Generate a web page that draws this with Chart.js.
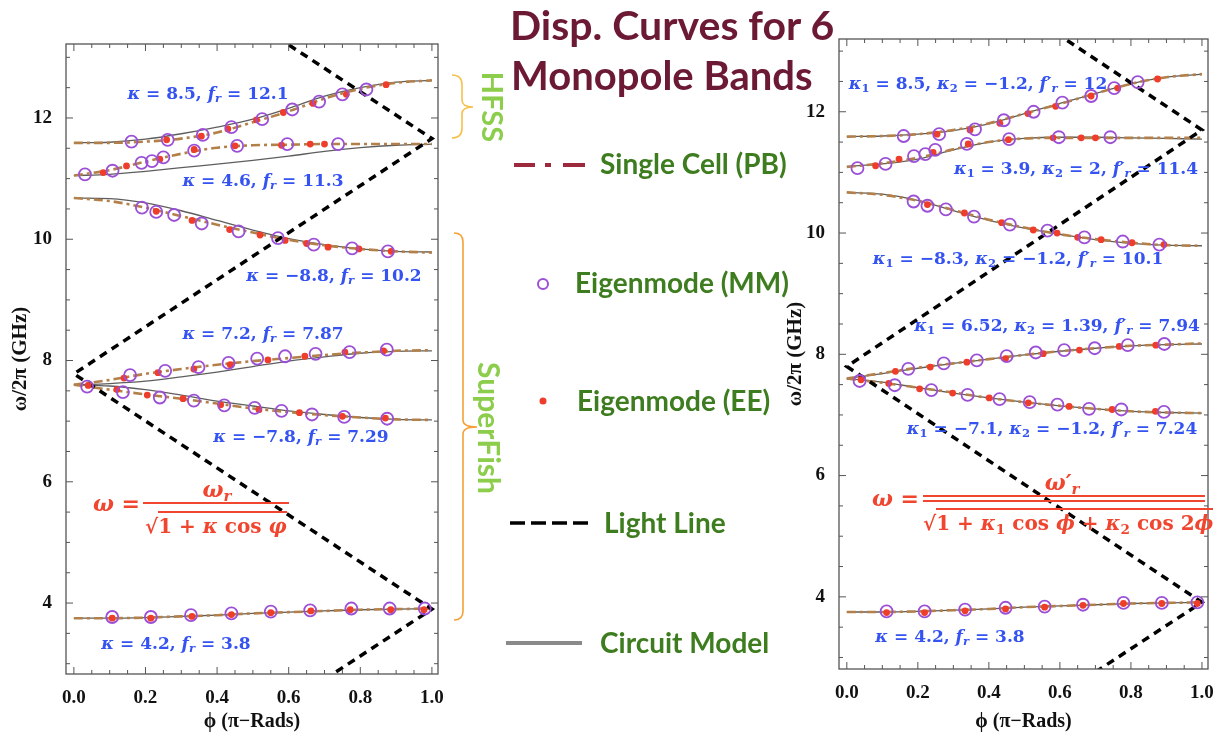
<!DOCTYPE html>
<html>
<head>
<meta charset="utf-8">
<script src="https://cdn.jsdelivr.net/npm/chart.js"></script>
<style>
  body { margin: 0; width: 1215px; height: 736px; overflow: hidden; background: #fff; position: relative; }
  canvas { position: absolute; top: 0; }
  .lbl { position: absolute; transform: translate(-50%, -50%); white-space: nowrap; color: #3453f0;
         font: bold 17px 'DejaVu Serif', serif; z-index: 3; }
  .lbl sub, .frm sub { font-size: 68%; vertical-align: -0.3em; line-height: 0; }
  .frm { position: absolute; white-space: nowrap; color: #f0452f; font: bold 22px 'DejaVu Serif', serif;
         transform: translateY(-50%); z-index: 3; }
  .den { font-size: 20px; }
  .ctr { transform: translate(-50%, -50%); }
  .bar { position: absolute; height: 2px; background: #f0452f; z-index: 3; }
  .ov { border-top: 2px solid #f0452f; padding-top: 1px; }
  svg { position: absolute; left: 0; top: 0; z-index: 2; }
</style>
</head>
<body>
<canvas id="leftChart" width="460" height="736" style="left:0"></canvas>
<canvas id="rightChart" width="450" height="736" style="left:780px"></canvas>

<svg width="1215" height="736">
  <text x="510" y="40" font-family="Lato" font-weight="bold" font-size="41" fill="#6c1a34">Disp. Curves for 6</text>
  <text x="511" y="90" font-family="Lato" font-weight="bold" font-size="40" fill="#6c1a34">Monopole Bands</text>

  <path d="M452,75 Q462,75 462,85 L462,100 Q462,107 473,107 Q462,107 462,114 L462,128 Q462,138 452,138" fill="none" stroke="#f6c04c" stroke-width="1.6"/>
  <path d="M454,233 Q463,233 463,242 L463,420 Q463,427 477,427 Q463,427 463,434 L463,611 Q463,620 454,620" fill="none" stroke="#f5a036" stroke-width="1.6"/>
  <text x="493" y="107" transform="rotate(90 493 107)" text-anchor="middle" dominant-baseline="central" font-family="Lato" font-weight="bold" font-size="29" fill="#8ccd4c">HFSS</text>
  <text x="490" y="428" transform="rotate(90 490 428)" text-anchor="middle" dominant-baseline="central" font-family="Lato" font-weight="bold" font-size="30" fill="#8ccd4c">SuperFish</text>

  <line x1="514" y1="165" x2="535" y2="165" stroke="#9c2a3c" stroke-width="4"/>
  <line x1="545" y1="165" x2="551" y2="165" stroke="#9c2a3c" stroke-width="4"/>
  <line x1="563" y1="165" x2="585" y2="165" stroke="#9c2a3c" stroke-width="4"/>
  <circle cx="543" cy="284" r="5" fill="none" stroke="#9b4fd6" stroke-width="2"/>
  <circle cx="543" cy="401" r="3.5" fill="#ee3d2a"/>
  <line x1="510" y1="523" x2="588" y2="523" stroke="#000" stroke-width="3.5" stroke-dasharray="15 6"/>
  <line x1="506" y1="643" x2="582" y2="643" stroke="#8a8a8a" stroke-width="4"/>

  <g font-family="Lato" font-weight="bold" font-size="28" fill="#3e7d1f">
    <text x="600" y="174">Single Cell (PB)</text>
    <text x="575" y="293">Eigenmode (MM)</text>
    <text x="577" y="411">Eigenmode (EE)</text>
    <text x="604" y="533">Light Line</text>
    <text x="600" y="653">Circuit Model</text>
  </g>
</svg>

<!-- left panel notes -->
<div class="lbl" style="left:208px;top:93px"><i>κ</i> = 8.5, <i>f<sub>r</sub></i> = 12.1</div>
<div class="lbl" style="left:263px;top:180px"><i>κ</i> = 4.6, <i>f<sub>r</sub></i> = 11.3</div>
<div class="lbl" style="left:334px;top:275px"><i>κ</i> = −8.8, <i>f<sub>r</sub></i> = 10.2</div>
<div class="lbl" style="left:263px;top:333px"><i>κ</i> = 7.2, <i>f<sub>r</sub></i> = 7.87</div>
<div class="lbl" style="left:301px;top:436px"><i>κ</i> = −7.8, <i>f<sub>r</sub></i> = 7.29</div>
<div class="lbl" style="left:176px;top:643px"><i>κ</i> = 4.2, <i>f<sub>r</sub></i> = 3.8</div>

<div class="frm" style="left:93px;top:503px"><i>ω</i> =</div>
<div class="frm ctr" style="left:217px;top:489px"><i>ω<sub>r</sub></i></div>
<div class="bar" style="left:143px;top:502px;width:146px"></div>
<div class="frm den" style="left:145px;top:526px">√<span class="ov">1 + <i>κ</i> cos <i>φ</i></span></div>

<!-- right panel notes -->
<div class="lbl" style="left:978px;top:83px"><i>κ</i><sub>1</sub> = 8.5, <i>κ</i><sub>2</sub> = −1.2, <i>f′<sub>r</sub></i> = 12</div>
<div class="lbl" style="left:1076px;top:168px"><i>κ</i><sub>1</sub> = 3.9, <i>κ</i><sub>2</sub> = 2, <i>f′<sub>r</sub></i> = 11.4</div>
<div class="lbl" style="left:1018px;top:258px"><i>κ</i><sub>1</sub> = −8.3, <i>κ</i><sub>2</sub> = −1.2, <i>f′<sub>r</sub></i> = 10.1</div>
<div class="lbl" style="left:1057px;top:325px"><i>κ</i><sub>1</sub> = 6.52, <i>κ</i><sub>2</sub> = 1.39, <i>f′<sub>r</sub></i> = 7.94</div>
<div class="lbl" style="left:1052px;top:428px"><i>κ</i><sub>1</sub> = −7.1, <i>κ</i><sub>2</sub> = −1.2, <i>f′<sub>r</sub></i> = 7.24</div>
<div class="lbl" style="left:950px;top:636px"><i>κ</i> = 4.2, <i>f<sub>r</sub></i> = 3.8</div>

<div class="frm" style="left:872px;top:498px"><i>ω</i> =</div>
<div class="frm ctr" style="left:1062px;top:482px"><i>ω′<sub>r</sub></i></div>
<div class="bar" style="left:923px;top:495px;width:282px"></div>
<div class="bar" style="left:923px;top:500px;width:282px"></div>
<div class="frm den" style="left:923px;top:523px">√<span class="ov">1 + <i>κ</i><sub>1</sub> cos <i>ϕ</i> + <i>κ</i><sub>2</sub> cos 2<i>ϕ</i></span></div>

<script>
// phase grid used for the two model curves (pi-rads)
const curvePhi = [0, 0.1, 0.2, 0.3, 0.4, 0.5, 0.6, 0.7, 0.8, 0.9, 1.0];

// ---- left panel (single kappa fit) ----
const leftCircuit = [
  [3.75, 3.75, 3.76, 3.78, 3.80, 3.83, 3.85, 3.87, 3.89, 3.90, 3.91],
  [7.60, 7.58, 7.52, 7.43, 7.33, 7.25, 7.17, 7.11, 7.06, 7.03, 7.02],
  [7.60, 7.62, 7.66, 7.73, 7.81, 7.90, 7.99, 8.06, 8.12, 8.15, 8.16],
  [10.68, 10.67, 10.60, 10.47, 10.31, 10.15, 10.01, 9.91, 9.84, 9.80, 9.79],
  [11.05, 11.07, 11.12, 11.18, 11.24, 11.30, 11.37, 11.45, 11.51, 11.55, 11.57],
  [11.59, 11.60, 11.65, 11.74, 11.85, 11.98, 12.16, 12.36, 12.50, 12.59, 12.62]
];
const leftCell = [
  [3.75, 3.75, 3.76, 3.78, 3.80, 3.83, 3.85, 3.87, 3.89, 3.90, 3.91],
  [7.60, 7.52, 7.44, 7.37, 7.29, 7.21, 7.15, 7.10, 7.06, 7.03, 7.02],
  [7.60, 7.68, 7.78, 7.86, 7.93, 7.99, 8.04, 8.09, 8.13, 8.16, 8.17],
  [10.68, 10.63, 10.52, 10.38, 10.24, 10.11, 9.99, 9.90, 9.84, 9.80, 9.78],
  [11.05, 11.14, 11.28, 11.41, 11.51, 11.55, 11.56, 11.57, 11.57, 11.57, 11.57],
  [11.59, 11.59, 11.61, 11.66, 11.76, 11.93, 12.11, 12.32, 12.48, 12.58, 12.62]
];
const leftMMPhi = [
  [0.107, 0.215, 0.327, 0.44, 0.55, 0.66, 0.775, 0.882, 0.98],
  [0.037, 0.137, 0.24, 0.335, 0.42, 0.505, 0.58, 0.665, 0.755, 0.875],
  [0.157, 0.255, 0.348, 0.432, 0.512, 0.59, 0.675, 0.77, 0.874],
  [0.19, 0.23, 0.28, 0.357, 0.46, 0.57, 0.67, 0.777, 0.877],
  [0.031, 0.108, 0.189, 0.218, 0.25, 0.336, 0.456, 0.596, 0.738],
  [0.161, 0.262, 0.36, 0.44, 0.526, 0.61, 0.685, 0.75, 0.817]
];
const leftMMVal = [
  [3.77, 3.77, 3.80, 3.83, 3.86, 3.88, 3.91, 3.91, 3.91],
  [7.57, 7.48, 7.39, 7.34, 7.26, 7.22, 7.17, 7.11, 7.07, 7.04],
  [7.76, 7.83, 7.89, 7.96, 8.03, 8.07, 8.11, 8.14, 8.18],
  [10.52, 10.45, 10.40, 10.26, 10.13, 10.02, 9.91, 9.85, 9.80],
  [11.07, 11.13, 11.26, 11.29, 11.35, 11.46, 11.54, 11.57, 11.57],
  [11.61, 11.64, 11.72, 11.85, 11.98, 12.14, 12.27, 12.39, 12.47]
];
const leftEEPhi = [
  [0.107, 0.215, 0.33, 0.44, 0.55, 0.662, 0.772, 0.885, 0.978],
  [0.04, 0.12, 0.205, 0.305, 0.41, 0.517, 0.63, 0.75, 0.87],
  [0.14, 0.235, 0.335, 0.437, 0.542, 0.645, 0.757, 0.865],
  [0.23, 0.33, 0.435, 0.52, 0.59, 0.65, 0.71, 0.796, 0.886],
  [0.082, 0.147, 0.24, 0.336, 0.45, 0.58, 0.66, 0.70],
  [0.259, 0.356, 0.43, 0.51, 0.585, 0.668, 0.761, 0.872]
];
const leftEEVal = [
  [3.75, 3.75, 3.78, 3.81, 3.84, 3.87, 3.89, 3.89, 3.89],
  [7.59, 7.52, 7.43, 7.37, 7.27, 7.19, 7.14, 7.08, 7.05],
  [7.71, 7.80, 7.86, 7.93, 8.01, 8.07, 8.14, 8.16],
  [10.46, 10.31, 10.16, 10.07, 9.98, 9.93, 9.87, 9.84, 9.80],
  [11.10, 11.21, 11.32, 11.48, 11.54, 11.55, 11.57, 11.57],
  [11.64, 11.70, 11.82, 11.97, 12.09, 12.24, 12.39, 12.55]
];
const leftLightPhi = [0.7, 1.0, 0.0, 1.0, 0.55];
const leftLightVal = [2.74, 3.90, 7.78, 11.66, 13.40];

// ---- right panel (two kappa fit) ----
const rightCircuit = [
  [3.75, 3.75, 3.76, 3.78, 3.80, 3.83, 3.85, 3.87, 3.89, 3.90, 3.91],
  [7.60, 7.54, 7.45, 7.36, 7.28, 7.21, 7.15, 7.10, 7.06, 7.04, 7.03],
  [7.60, 7.68, 7.77, 7.85, 7.92, 7.99, 8.05, 8.10, 8.14, 8.16, 8.17],
  [10.67, 10.64, 10.54, 10.37, 10.21, 10.08, 9.98, 9.89, 9.83, 9.80, 9.79],
  [11.10, 11.14, 11.22, 11.37, 11.50, 11.56, 11.58, 11.58, 11.57, 11.56, 11.55],
  [11.59, 11.60, 11.63, 11.69, 11.80, 11.97, 12.14, 12.30, 12.46, 12.57, 12.62]
];
const rightCell = [
  [3.75, 3.75, 3.76, 3.78, 3.80, 3.83, 3.85, 3.87, 3.89, 3.90, 3.91],
  [7.60, 7.53, 7.45, 7.37, 7.28, 7.21, 7.15, 7.10, 7.06, 7.04, 7.03],
  [7.60, 7.69, 7.78, 7.85, 7.92, 7.99, 8.05, 8.10, 8.14, 8.16, 8.18],
  [10.67, 10.63, 10.53, 10.38, 10.22, 10.09, 9.98, 9.90, 9.84, 9.80, 9.79],
  [11.09, 11.15, 11.24, 11.38, 11.50, 11.56, 11.57, 11.57, 11.57, 11.57, 11.57],
  [11.59, 11.60, 11.63, 11.70, 11.81, 11.97, 12.13, 12.30, 12.46, 12.57, 12.62]
];
const rightMMPhi = [
  [0.112, 0.219, 0.333, 0.447, 0.557, 0.665, 0.779, 0.887, 0.987],
  [0.036, 0.135, 0.238, 0.34, 0.43, 0.515, 0.593, 0.682, 0.773, 0.893],
  [0.173, 0.273, 0.366, 0.45, 0.532, 0.612, 0.698, 0.791, 0.894],
  [0.188, 0.227, 0.279, 0.358, 0.459, 0.565, 0.669, 0.777, 0.88],
  [0.03, 0.109, 0.189, 0.221, 0.249, 0.338, 0.457, 0.597, 0.742],
  [0.16, 0.26, 0.361, 0.442, 0.526, 0.607, 0.688, 0.753, 0.819]
];
const rightMMVal = [
  [3.76, 3.76, 3.79, 3.82, 3.84, 3.87, 3.90, 3.90, 3.91],
  [7.56, 7.49, 7.41, 7.33, 7.26, 7.21, 7.17, 7.10, 7.09, 7.05],
  [7.76, 7.85, 7.90, 7.97, 8.03, 8.07, 8.10, 8.15, 8.17],
  [10.52, 10.45, 10.39, 10.27, 10.14, 10.04, 9.93, 9.86, 9.81],
  [11.07, 11.14, 11.27, 11.30, 11.37, 11.47, 11.55, 11.58, 11.58],
  [11.60, 11.63, 11.71, 11.86, 12.00, 12.15, 12.26, 12.39, 12.49]
];
const rightEEPhi = [
  [0.112, 0.219, 0.333, 0.447, 0.557, 0.665, 0.779, 0.887, 0.987],
  [0.04, 0.118, 0.205, 0.298, 0.401, 0.511, 0.626, 0.747, 0.869],
  [0.137, 0.235, 0.338, 0.447, 0.553, 0.655, 0.767, 0.87],
  [0.227, 0.331, 0.436, 0.525, 0.592, 0.65, 0.716, 0.803, 0.893],
  [0.081, 0.147, 0.243, 0.342, 0.455, 0.581, 0.66, 0.70],
  [0.254, 0.347, 0.431, 0.51, 0.588, 0.688, 0.763, 0.875]
];
const rightEEVal = [
  [3.74, 3.74, 3.77, 3.80, 3.83, 3.86, 3.89, 3.89, 3.89],
  [7.58, 7.52, 7.43, 7.36, 7.28, 7.20, 7.14, 7.09, 7.06],
  [7.72, 7.79, 7.87, 7.93, 8.01, 8.07, 8.13, 8.15],
  [10.47, 10.33, 10.17, 10.05, 10.00, 9.93, 9.89, 9.84, 9.81],
  [11.11, 11.22, 11.33, 11.47, 11.54, 11.57, 11.57, 11.57],
  [11.63, 11.70, 11.81, 11.97, 12.09, 12.26, 12.39, 12.54]
];
const rightLightPhi = [0.7, 1.0, 0.0, 1.0, 0.55];
const rightLightVal = [2.76, 3.91, 7.80, 11.70, 13.45];

const xTicks = [0, 0.2, 0.4, 0.6, 0.8, 1.0];
const yTicks = [4, 6, 8, 10, 12];

const serif = 'Liberation Serif';

// box frame with inward ticks on every side (Mathematica style)
const frameTicks = {
  id: 'frameTicks',
  afterDraw(chart) {
    const { ctx, chartArea: a, scales: { x, y } } = chart;
    ctx.save();
    ctx.strokeStyle = '#555';
    ctx.lineWidth = 1.3;
    ctx.strokeRect(a.left, a.top, a.right - a.left, a.bottom - a.top);
    ctx.lineWidth = 1;
    ctx.beginPath();
    for (let i = 0; i <= 20; i++) {
      const px = x.getPixelForValue(i * 0.05);
      const len = i % 4 === 0 ? 7 : 4;
      ctx.moveTo(px, a.bottom); ctx.lineTo(px, a.bottom - len);
      ctx.moveTo(px, a.top); ctx.lineTo(px, a.top + len);
    }
    for (let i = 6; i <= 26; i++) {
      const py = y.getPixelForValue(i * 0.5);
      if (py < a.top || py > a.bottom) continue;
      const len = i % 4 === 0 ? 7 : 4;
      ctx.moveTo(a.left, py); ctx.lineTo(a.left + len, py);
      ctx.moveTo(a.right, py); ctx.lineTo(a.right - len, py);
    }
    ctx.stroke();
    ctx.restore();
  }
};

function pts(xs, ys) {
  return xs.map((p, i) => ({ x: p, y: ys[i] }));
}

function buildSets(circuit, cell, mmPhi, mmVal, eePhi, eeVal, lightPhi, lightVal) {
  const sets = [];
  for (let b = 0; b < circuit.length; b++) {
    sets.push({
      data: pts(curvePhi, circuit[b]), showLine: true, pointRadius: 0,
      borderColor: '#5e5e5e', borderWidth: 1.3, cubicInterpolationMode: 'monotone', order: 6
    });
    sets.push({
      data: pts(curvePhi, cell[b]), showLine: true, pointRadius: 0,
      borderColor: '#b3804a', borderWidth: 2.6, borderDash: [9, 4, 3, 4],
      cubicInterpolationMode: 'monotone', order: 5
    });
    sets.push({
      data: pts(eePhi[b], eeVal[b]), pointRadius: 3.4,
      backgroundColor: '#ee3d2a', borderColor: '#ee3d2a', borderWidth: 0, order: 2
    });
    sets.push({
      data: pts(mmPhi[b], mmVal[b]), pointRadius: 6,
      backgroundColor: 'rgba(0,0,0,0)', borderColor: '#9b4fd6', borderWidth: 1.8, order: 1
    });
  }
  sets.push({
    data: pts(lightPhi, lightVal), showLine: true, pointRadius: 0,
    borderColor: '#000', borderWidth: 3.5, borderDash: [8, 6], order: 3
  });
  return sets;
}

function makeChart(id, sets, box) {
  return new Chart(document.getElementById(id), {
    type: 'scatter',
    data: { datasets: sets },
    options: {
      responsive: false,
      animation: false,
      layout: { padding: { left: 0, top: box.top, right: box.right, bottom: 0 } },
      plugins: { legend: { display: false }, tooltip: { enabled: false } },
      scales: {
        x: {
          type: 'linear', min: -0.022, max: 1.017,
          grid: { display: false }, border: { display: false },
          afterBuildTicks: s => { s.ticks = xTicks.map(v => ({ value: v })); },
          afterFit: s => { s.height = box.xh; },
          ticks: { padding: 5, autoSkip: false, maxRotation: 0, color: '#111',
                   font: { family: serif, weight: 'bold', size: 19 },
                   callback: v => v.toFixed(1) },
          title: { display: true, text: 'ϕ (π−Rads)', color: '#111',
                   font: { family: serif, weight: 'bold', size: 20 }, padding: { top: 0, bottom: 2 } }
        },
        y: {
          type: 'linear', min: box.ymin, max: box.ymax,
          grid: { display: false }, border: { display: false },
          afterBuildTicks: s => { s.ticks = yTicks.map(v => ({ value: v })); },
          afterFit: s => { s.width = box.yw; },
          ticks: { padding: 6, autoSkip: false, color: '#111',
                   font: { family: serif, weight: 'bold', size: 19 } },
          title: { display: true, text: 'ω/2π (GHz)', color: '#111',
                   font: { family: serif, weight: 'bold', size: 21 }, padding: { top: box.tp, bottom: 0 } }
        }
      }
    },
    plugins: [frameTicks]
  });
}

makeChart('leftChart',
  buildSets(leftCircuit, leftCell, leftMMPhi, leftMMVal, leftEEPhi, leftEEVal, leftLightPhi, leftLightVal),
  { top: 44, right: 22, xh: 62, yw: 66, ymin: 2.83, ymax: 13.22, tp: 8 });

makeChart('rightChart',
  buildSets(rightCircuit, rightCell, rightMMPhi, rightMMVal, rightEEPhi, rightEEVal, rightLightPhi, rightLightVal),
  { top: 39, right: 22, xh: 67, yw: 59, ymin: 2.81, ymax: 13.2, tp: 3 });
</script>
</body>
</html>
